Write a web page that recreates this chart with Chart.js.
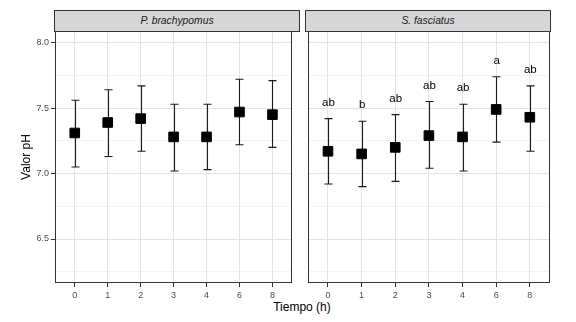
<!DOCTYPE html>
<html><head><meta charset="utf-8">
<script src="https://cdn.jsdelivr.net/npm/chart.js@4/dist/chart.umd.min.js"></script>
<style>
body{margin:0;background:#fff;width:576px;height:322px;overflow:hidden;position:relative;font-family:"Liberation Sans",Arial,sans-serif}
canvas{position:absolute;top:0}
.strip{position:absolute;top:10px;height:22px;box-sizing:border-box;border:1px solid #333;background:#d6d6d6;font-style:italic;font-size:10.3px;color:#1a1a1a;text-align:center;line-height:20px}
.xt{position:absolute;left:252px;width:100px;top:300px;text-align:center;font-size:12px;color:#000}
.yt{position:absolute;left:-24px;top:150px;width:100px;text-align:center;font-size:12px;color:#000;transform:rotate(-90deg)}
</style></head><body>
<div class="strip" style="left:54px;width:246px">P. brachypomus</div>
<div class="strip" style="left:305px;width:246px">S. fasciatus</div>
<canvas id="cL" width="300" height="300" style="left:0"></canvas>
<canvas id="cR" width="276" height="300" style="left:300px"></canvas>
<div class="xt">Tiempo (h)</div>
<div class="yt">Valor pH</div>
<script>
const categories = ['0','1','2','3','4','6','8'];
const brachyMean  = [7.31,7.39,7.42,7.28,7.28,7.47,7.45];
const brachyUpper = [7.56,7.64,7.67,7.53,7.53,7.72,7.71];
const brachyLower = [7.05,7.13,7.17,7.02,7.03,7.22,7.20];
const fasciatusMean  = [7.17,7.15,7.20,7.29,7.28,7.49,7.43];
const fasciatusUpper = [7.42,7.40,7.45,7.55,7.53,7.74,7.67];
const fasciatusLower = [6.92,6.90,6.94,7.04,7.02,7.24,7.17];
const fasciatusLetters = ['ab','b','ab','ab','ab','a','ab'];
const yMajorTicks = [6.5,7.0,7.5,8.0];
const yMinorTicks = [6.25,6.75,7.25,7.75];

const FONT = '"Liberation Sans", Arial, sans-serif';
const yAll = yMajorTicks.concat(yMinorTicks).sort((a,b)=>a-b);
const isMajor = v => yMajorTicks.includes(v);

function errPlugin(lower, upper, letters){
  return {
    id:'errbars',
    beforeDatasetsDraw(chart){
      const {ctx, scales:{x,y}} = chart;
      ctx.save();
      ctx.strokeStyle = '#1a1a1a';
      ctx.lineWidth = 1.1;
      for(let i=0;i<lower.length;i++){
        const px = Math.round(x.getPixelForValue(i))+0.5;
        const yu = y.getPixelForValue(upper[i]);
        const yl = y.getPixelForValue(lower[i]);
        ctx.beginPath();
        ctx.moveTo(px,yu); ctx.lineTo(px,yl);
        ctx.moveTo(px-4,yu); ctx.lineTo(px+4,yu);
        ctx.moveTo(px-4,yl); ctx.lineTo(px+4,yl);
        ctx.stroke();
      }
      ctx.restore();
    },
    afterDatasetsDraw(chart){
      const {ctx, chartArea:a, scales:{x,y}} = chart;
      ctx.save();
      if(letters){
        ctx.fillStyle = '#000';
        ctx.font = '11.5px ' + FONT;
        ctx.textAlign = 'center';
        ctx.textBaseline = 'alphabetic';
        for(let i=0;i<letters.length;i++){
          ctx.fillText(letters[i], x.getPixelForValue(i)+0.5, y.getPixelForValue(upper[i]) - 13);
        }
      }
      ctx.strokeStyle = '#333';
      ctx.lineWidth = 1;
      ctx.strokeRect(Math.round(a.left)+0.5, Math.round(a.top)+0.5, Math.round(a.right-a.left)-1, Math.round(a.bottom-a.top)-1);
      ctx.restore();
    }
  };
}

function makeChart(id, mean, lower, upper, letters, showY, pad){
  return new Chart(document.getElementById(id), {
    type:'scatter',
    data:{datasets:[{
      data: mean.map((m,i)=>({x:i,y:m})),
      pointStyle:'rect', pointRadius:6.8, pointHoverRadius:6.8,
      backgroundColor:'#000', borderColor:'#000', borderWidth:1
    }]},
    options:{
      responsive:false, animation:false, devicePixelRatio:1, events:[],
      layout:{padding:pad},
      plugins:{legend:{display:false}, tooltip:{enabled:false}},
      scales:{
        x:{type:'linear', min:-0.6, max:6.6,
          afterBuildTicks:s=>{s.ticks = categories.map((c,i)=>({value:i}));},
          ticks:{callback:v=>categories[v], color:'#4d4d4d', font:{family:FONT,size:9}, padding:3, autoSkip:false, maxRotation:0},
          grid:{color:'#e3e3e3', lineWidth:1, tickLength:4, tickColor:'#333'},
          border:{display:false},
          afterFit:s=>{s.height = 17;}
        },
        y:{min:6.164, max:8.089,
          afterBuildTicks:s=>{s.ticks = yAll.map(v=>({value:v}));},
          ticks:{display:showY, callback:v=>isMajor(v)?v.toFixed(1):'', color:'#4d4d4d', font:{family:FONT,size:9}, padding:2, autoSkip:false},
          grid:{color:c=>isMajor(c.tick.value)?'#e3e3e3':'#efefef', lineWidth:c=>isMajor(c.tick.value)?1:0.7,
                tickLength:4, drawTicks:showY, tickColor:c=>isMajor(c.tick.value)?'#333':'rgba(0,0,0,0)'},
          border:{display:false},
          afterFit:s=>{s.width = showY?55:0;}
        }
      }
    },
    plugins:[errPlugin(lower, upper, letters)]
  });
}

makeChart('cL', brachyMean, brachyLower, brachyUpper, null, true, {top:31,right:1,bottom:0,left:0});
makeChart('cR', fasciatusMean, fasciatusLower, fasciatusUpper, fasciatusLetters, false, {top:31,right:26,bottom:0,left:5});
</script>
</body></html>
